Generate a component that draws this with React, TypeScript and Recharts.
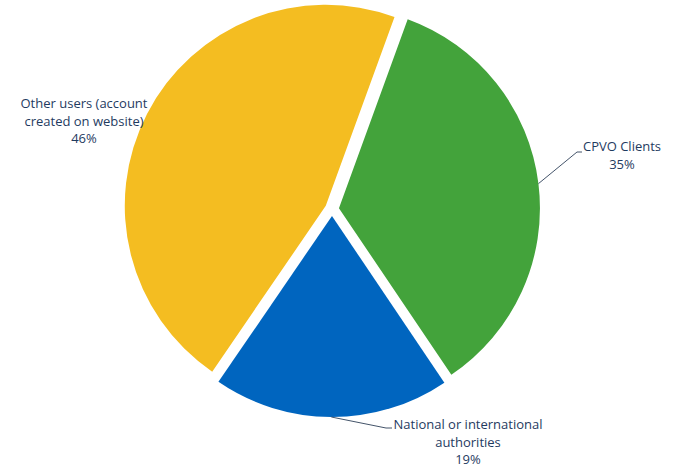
import { PieChart, Pie, Cell } from "recharts";

// data
const categories = [
  "CPVO Clients",
  "National or international authorities",
  "Other users (account created on website)",
];
const shares = [35, 19, 46];
const colors = ["#43A33B", "#0065BF", "#F4BD21"];

const data = categories.map((name, i) => ({ name, value: shares[i] }));

// layout
const W = 674;
const H = 468;
const CX = 332;
const CY = 209;
const R = 201;
const EXPLODE = 7;
const START = 70;
const END = START - 360;
const TEXT = "#1F3B5F";
const LINE = "#44546A";
const RAD = Math.PI / 180;
const LINE_H = 17.5;

// where Excel put each data label (text centre, first baseline, wrap, leader elbow)
const LABELS = [
  { x: 622, y: 151, wrap: 14, elbow: [577, 152], end: [582, 152] },
  { x: 468, y: 429, wrap: 25, elbow: [386, 428], end: [392, 428] },
  { x: 84, y: 108, wrap: 20, elbow: null, end: null },
];

function wrapText(s: string, max: number): string[] {
  const out: string[] = [];
  let cur = "";
  for (const w of s.split(" ")) {
    if (cur && (cur + " " + w).length > max) {
      out.push(cur);
      cur = w;
    } else cur = cur ? cur + " " + w : w;
  }
  if (cur) out.push(cur);
  return out;
}

const total = shares.reduce((a, b) => a + b, 0);
function midAngle(i: number) {
  const before = shares.slice(0, i).reduce((a, b) => a + b, 0);
  return START - ((before + shares[i] / 2) / total) * 360;
}

function renderLabel(k: number) {
  // eslint-disable-next-line @typescript-eslint/no-explicit-any
  return (p: any) => {
    if (p.index !== k) return null;
    const cfg = LABELS[k];
    const lines = [...wrapText(p.name, cfg.wrap), `${Math.round(p.percent * 100)}%`];
    const ox = p.cx + p.outerRadius * Math.cos(-p.midAngle * RAD);
    const oy = p.cy + p.outerRadius * Math.sin(-p.midAngle * RAD);
    return (
      <g key={`lbl-${k}`}>
        {cfg.elbow && cfg.end && (
          <polyline
            points={`${ox},${oy} ${cfg.elbow[0]},${cfg.elbow[1]} ${cfg.end[0]},${cfg.end[1]}`}
            fill="none"
            stroke={LINE}
            strokeWidth={1}
          />
        )}
        <text
          x={cfg.x}
          y={cfg.y}
          textAnchor="middle"
          fill={TEXT}
          fontSize={13}
          fontFamily="'Open Sans', sans-serif"
        >
          {lines.map((l, j) => (
            <tspan key={j} x={cfg.x} dy={j === 0 ? 0 : LINE_H}>
              {l}
            </tspan>
          ))}
        </text>
      </g>
    );
  };
}

export default function App() {
  return (
    <div style={{ width: W, height: H, background: "#fff" }}>
      <style>{"body{margin:0}"}</style>
      <PieChart width={W} height={H} margin={{ top: 0, right: 0, bottom: 0, left: 0 }}>
        {categories.map((_, k) => {
          const a = midAngle(k) * RAD;
          return (
            <Pie
              key={k}
              data={data}
              dataKey="value"
              nameKey="name"
              cx={CX + EXPLODE * Math.cos(a)}
              cy={CY - EXPLODE * Math.sin(a)}
              outerRadius={R}
              startAngle={START}
              endAngle={END}
              stroke="none"
              label={renderLabel(k)}
              labelLine={false}
              isAnimationActive={false}
            >
              {data.map((d, i) => (
                <Cell key={d.name} fill={i === k ? colors[i] : "none"} />
              ))}
            </Pie>
          );
        })}
      </PieChart>
    </div>
  );
}
